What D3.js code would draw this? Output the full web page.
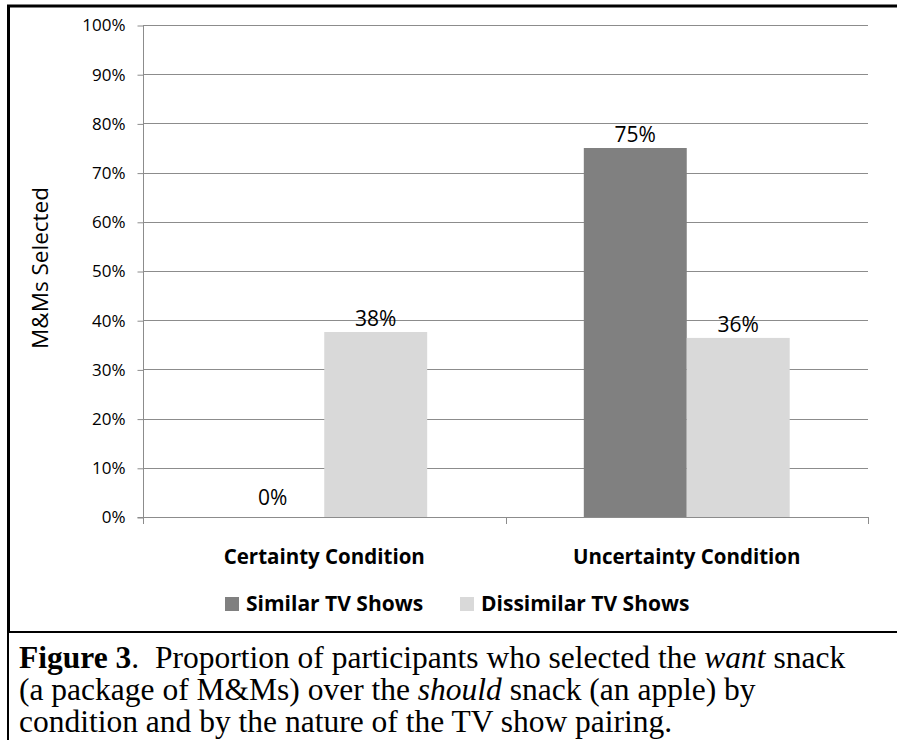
<!DOCTYPE html>
<html>
<head>
<meta charset="utf-8">
<script src="https://cdn.jsdelivr.net/npm/d3@7"></script>
<style>
  html, body { margin: 0; padding: 0; background: #fff; }
  svg { display: block; }
</style>
</head>
<body>
<svg id="chart" width="897" height="740"></svg>
<script>
const categories = ["Certainty Condition", "Uncertainty Condition"];
const seriesNames = ["Similar TV Shows", "Dissimilar TV Shows"];
const similarValues = [0.00, 0.75];
const dissimilarValues = [0.376, 0.364];
const dataLabels = [["0%", "38%"], ["75%", "36%"]];
const yTicks = [0, 0.1, 0.2, 0.3, 0.4, 0.5, 0.6, 0.7, 0.8, 0.9, 1.0];
const seriesColors = ["#808080", "#d9d9d9"];

const svg = d3.select("#chart");

// frame
svg.append("line").attr("x1", 7).attr("x2", 897).attr("y1", 6).attr("y2", 6)
  .attr("stroke", "#000").attr("stroke-width", 3);
svg.append("line").attr("x1", 8.5).attr("x2", 8.5).attr("y1", 5).attr("y2", 632)
  .attr("stroke", "#000").attr("stroke-width", 3);
svg.append("line").attr("x1", 8).attr("x2", 8).attr("y1", 632).attr("y2", 740)
  .attr("stroke", "#000").attr("stroke-width", 2);
svg.append("line").attr("x1", 7).attr("x2", 897).attr("y1", 632).attr("y2", 632)
  .attr("stroke", "#000").attr("stroke-width", 2);

const plot = { left: 143, right: 868, top: 25, bottom: 517 };

const y = d3.scaleLinear().domain([0, 1]).range([plot.bottom, plot.top]);
const x0 = d3.scaleBand().domain(categories).range([plot.left, plot.right]).padding(0);
const groupW = x0.step() * 0.568;
const x1 = d3.scaleBand().domain(seriesNames).range([0, groupW]).padding(0);

// gridlines
svg.append("g")
  .selectAll("line").data(yTicks.filter(d => d > 0)).join("line")
  .attr("x1", plot.left).attr("x2", plot.right)
  .attr("y1", d => Math.round(y(d)) + 0.5).attr("y2", d => Math.round(y(d)) + 0.5)
  .attr("stroke", "#8c8c8c").attr("stroke-width", 1);

// y axis
const yAxis = d3.axisLeft(y).tickValues(yTicks).tickFormat(d3.format(".0%"))
  .tickSize(6).tickPadding(12);
const gy = svg.append("g").attr("transform", `translate(${plot.left + 0.5},0.5)`).call(yAxis);
gy.select(".domain").attr("stroke", "#8c8c8c").attr("d", `M-6,${plot.bottom}H0V${plot.top}`);
gy.selectAll(".tick line").attr("stroke", "#8c8c8c");
gy.selectAll(".tick text").attr("font-family", "'Open Sans', sans-serif")
  .attr("font-size", 17).attr("fill", "#000");

// bars
const groups = categories.map((c, i) => ({ cat: c, vals: [similarValues[i], dissimilarValues[i]], labels: dataLabels[i] }));
const gBars = svg.append("g");
groups.forEach(gd => {
  const gx = x0(gd.cat) + (x0.bandwidth() - groupW) / 2;
  gd.vals.forEach((v, j) => {
    const bx = gx + x1(seriesNames[j]);
    gBars.append("rect")
      .attr("x", bx).attr("width", x1.bandwidth())
      .attr("y", y(v)).attr("height", y(0) - y(v))
      .attr("fill", seriesColors[j]);
    gBars.append("text")
      .attr("x", bx + x1.bandwidth() / 2)
      .attr("y", y(v) - (v === 0 ? 12 : 6))
      .attr("text-anchor", "middle")
      .attr("font-family", "'Open Sans', sans-serif")
      .attr("font-size", 21).attr("fill", "#000")
      .text(gd.labels[j]);
  });
});

// x axis
svg.append("line").attr("x1", plot.left).attr("x2", plot.right)
  .attr("y1", plot.bottom + 0.5).attr("y2", plot.bottom + 0.5).attr("stroke", "#8c8c8c");
const boundaries = [plot.left, ...categories.map(c => x0(c) + x0.bandwidth())];
svg.append("g").selectAll("line").data(boundaries).join("line")
  .attr("x1", d => Math.round(d) + 0.5).attr("x2", d => Math.round(d) + 0.5)
  .attr("y1", plot.bottom).attr("y2", plot.bottom + 7)
  .attr("stroke", "#8c8c8c");
svg.append("g").selectAll("text").data(categories).join("text")
  .attr("x", d => x0(d) + x0.bandwidth() / 2)
  .attr("y", 564)
  .attr("text-anchor", "middle")
  .attr("font-family", "'Open Sans', sans-serif")
  .attr("font-weight", "bold").attr("font-size", 20.5).attr("fill", "#000")
  .text(d => d);

// y title
svg.append("text")
  .attr("transform", "translate(48,268) rotate(-90)")
  .attr("text-anchor", "middle")
  .attr("font-family", "'Open Sans', sans-serif")
  .attr("font-size", 22.5).attr("fill", "#000")
  .text("M&Ms Selected");

// legend
const legendX = [225, 460];
const leg = svg.append("g");
seriesNames.forEach((s, i) => {
  leg.append("rect").attr("x", legendX[i]).attr("y", 597).attr("width", 14).attr("height", 14)
    .attr("fill", seriesColors[i]);
  leg.append("text").attr("x", legendX[i] + 21).attr("y", 611)
    .attr("font-family", "'Open Sans', sans-serif")
    .attr("font-weight", "bold").attr("font-size", 21).attr("fill", "#000")
    .text(s);
});

// caption
const cap = svg.append("text")
  .attr("font-family", "'Liberation Serif', 'Times New Roman', serif")
  .attr("font-size", 31.5).attr("fill", "#000");
const l1 = cap.append("tspan").attr("x", 19).attr("y", 668);
l1.append("tspan").attr("font-weight", "bold").text("Figure 3");
l1.append("tspan").text(".\u00a0 Proportion of participants who selected the ");
l1.append("tspan").attr("font-style", "italic").text("want");
l1.append("tspan").text(" snack");
const l2 = cap.append("tspan").attr("x", 19).attr("y", 700);
l2.append("tspan").text("(a package of M&Ms) over the ");
l2.append("tspan").attr("font-style", "italic").text("should");
l2.append("tspan").text(" snack (an apple) by");
cap.append("tspan").attr("x", 19).attr("y", 732).text("condition and by the nature of the TV show pairing.");
</script>
</body>
</html>
